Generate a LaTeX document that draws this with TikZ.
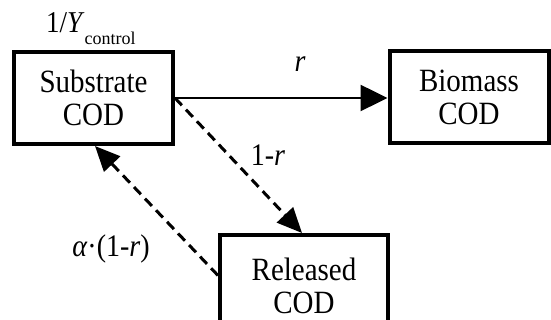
\documentclass[tikz,border=0pt]{standalone}
\usepackage{fontspec}
\usepackage{graphicx}
\setmainfont{Liberation Serif}
\usetikzlibrary{arrows.meta}
\newcommand{\tallt}[1]{\scalebox{1}[1.12]{#1}}
\begin{document}
\begin{tikzpicture}[x=1pt,y=1pt,
 box/.style={draw, line width=4pt, minimum width=159pt, minimum height=92pt, align=center, font=\fontsize{29}{33}\selectfont, inner sep=0pt},
 flow/.style={line width=2.5pt, -{Triangle[length=27pt,width=26pt]}},
 dflow/.style={line width=3pt, dash pattern=on 10pt off 6pt, -{Triangle[length=25pt,width=22pt]}},
 lbl/.style={font=\fontsize{28}{30}\selectfont, inner sep=0pt}]
\useasboundingbox (0,0) rectangle (551,320);
\node[box] (sub) at (93.5,222) {\tallt{Substrate}\\\tallt{COD}};
\node[box] (bio) at (469,222.5) {\tallt{Biomass}\\\tallt{COD}};
\node[box, minimum width=168pt, minimum height=101pt] (rel) at (304,34.5) {\tallt{Released}\\\tallt{COD}};
\draw[flow] (sub.east) -- (sub.east -| bio.west);
\draw[dflow] (sub.east) -- ([xshift=-2pt]rel.north);
\draw[dflow] ([yshift=10pt]rel.west) -- ([xshift=1.5pt]sub.south);
\node[lbl] (lr) at (300,256) {\tallt{\textit{r}}};
\node[lbl] (l1r) at (268,165) {\tallt{1-\textit{r}}};
\node[lbl] (la) at (111,71) {\tallt{\textit{α}·(1-\textit{r})}};
\node[inner sep=0pt, anchor=base west, font=\fontsize{27}{27}\selectfont] (ly) at (46,287) {\tallt{1/\textit{Y}}\raisebox{-12pt}{\fontsize{18}{18}\selectfont control}};
\end{tikzpicture}
\end{document}
